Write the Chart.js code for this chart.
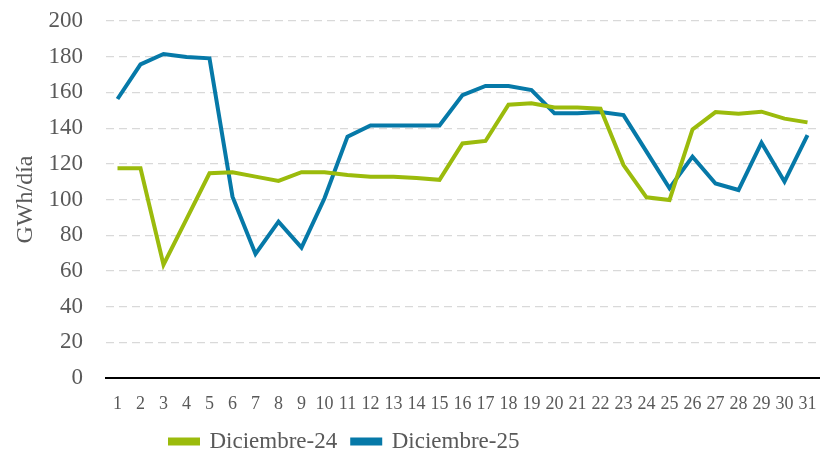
<!DOCTYPE html>
<html>
<head>
<meta charset="utf-8">
<script src="https://cdn.jsdelivr.net/npm/chart.js@4.4.1/dist/chart.umd.min.js"></script>
<style>
    html, body { margin: 0; padding: 0; background: #fff; }
    #wrap { width: 821px; height: 454px; position: relative; }
</style>
</head>
<body>
<div id="wrap"><canvas id="myChart" width="821" height="454"></canvas></div>
<script>
var days = [];
for (let d = 1; d <= 31; d++) days.push(String(d));
var dic24 = [117.5, 117.5, 63.5, 89, 114.7, 115.3, 112.8, 110.4, 115.3, 115.3,
    113.7, 112.8, 112.8, 112, 111, 131.4, 132.8, 153.1, 153.9, 151.6,
    151.6, 150.9, 119.3, 101.2, 99.7, 139.3, 149, 148.1, 149.2, 145.3, 143.2];
var dic25 = [156.3, 175.7, 181.5, 179.8, 179.1, 101.6, 69.5, 87.6, 73, 100.7,
    135.2, 141.5, 141.5, 141.5, 141.5, 158.5, 163.6, 163.6, 161.3, 148.3,
    148.3, 149, 147.3, 126.8, 106.3, 124, 109, 105.3, 131.8, 110, 136.1];
var yTicks = [0, 20, 40, 60, 80, 100, 120, 140, 160, 180, 200];

var serif = "'Liberation Serif', 'DejaVu Serif', serif";
var LEGEND_H = 34;

// legend: fixed height for the layout, then placed left of centre like the original
var legendMove = {
    id: 'legendMove',
    afterInit: function (chart) {
        var lg = chart.legend;
        var origFit = lg.fit;
        lg.fit = function () {
            origFit.call(this);
            this.height = LEGEND_H;
        };
    },
    afterLayout: function (chart) {
        var lg = chart.legend;
        var pad = lg.options.labels.padding;
        var w = lg.width;
        lg.left = 170 - pad;
        lg.right = lg.left + w;
        lg.top = 430 - pad;
        lg.bottom = chart.height;
        lg.height = lg.bottom - lg.top;
    }
};

var ctx = document.getElementById('myChart');
var chart = new Chart(ctx, {
    type: 'line',
    data: {
        labels: days,
        datasets: [
            {
                label: 'Diciembre-24',
                data: dic24,
                borderColor: '#9bbb0c',
                backgroundColor: '#9bbb0c',
                borderWidth: 4,
                pointRadius: 0,
                tension: 0,
                fill: false
            },
            {
                label: 'Diciembre-25',
                data: dic25,
                borderColor: '#0679a8',
                backgroundColor: '#0679a8',
                borderWidth: 4,
                pointRadius: 0,
                tension: 0,
                fill: false
            }
        ]
    },
    options: {
        responsive: false,
        animation: false,
        layout: { padding: { left: 0, right: 2, top: 21, bottom: 0 } },
        scales: {
            x: {
                offset: true,
                afterFit: function (axis) {
                    axis.height = 76 - LEGEND_H;
                    axis.paddingLeft = 0;
                    axis.paddingRight = 0;
                },
                grid: { display: false, drawTicks: false },
                border: { display: true, color: '#000', width: 2 },
                ticks: {
                    autoSkip: false,
                    maxRotation: 0,
                    padding: 15,
                    color: '#595959',
                    font: { family: serif, size: 18 }
                }
            },
            y: {
                min: 0,
                max: 200,
                afterBuildTicks: function (axis) {
                    axis.ticks = yTicks.map(function (v) { return { value: v }; });
                },
                afterFit: function (axis) {
                    axis.width = 106;
                    axis.paddingTop = 0;
                    axis.paddingBottom = 0;
                },
                grid: { color: '#d9d9d9', lineWidth: 1.2, drawTicks: false },
                border: { display: false, dash: [8, 5] },
                ticks: {
                    padding: 23,
                    color: '#595959',
                    font: { family: serif, size: 23 }
                },
                title: {
                    display: true,
                    text: 'GWh/día',
                    color: '#595959',
                    font: { family: serif, size: 24 },
                    padding: { top: 11, bottom: 0 }
                }
            }
        },
        plugins: {
            legend: {
                position: 'bottom',
                align: 'start',
                labels: {
                    boxWidth: 28,
                    boxHeight: 4,
                    padding: 15,
                    color: '#595959',
                    font: { family: serif, size: 23 }
                }
            },
            tooltip: { enabled: false }
        }
    },
    plugins: [legendMove]
});
</script>
</body>
</html>
